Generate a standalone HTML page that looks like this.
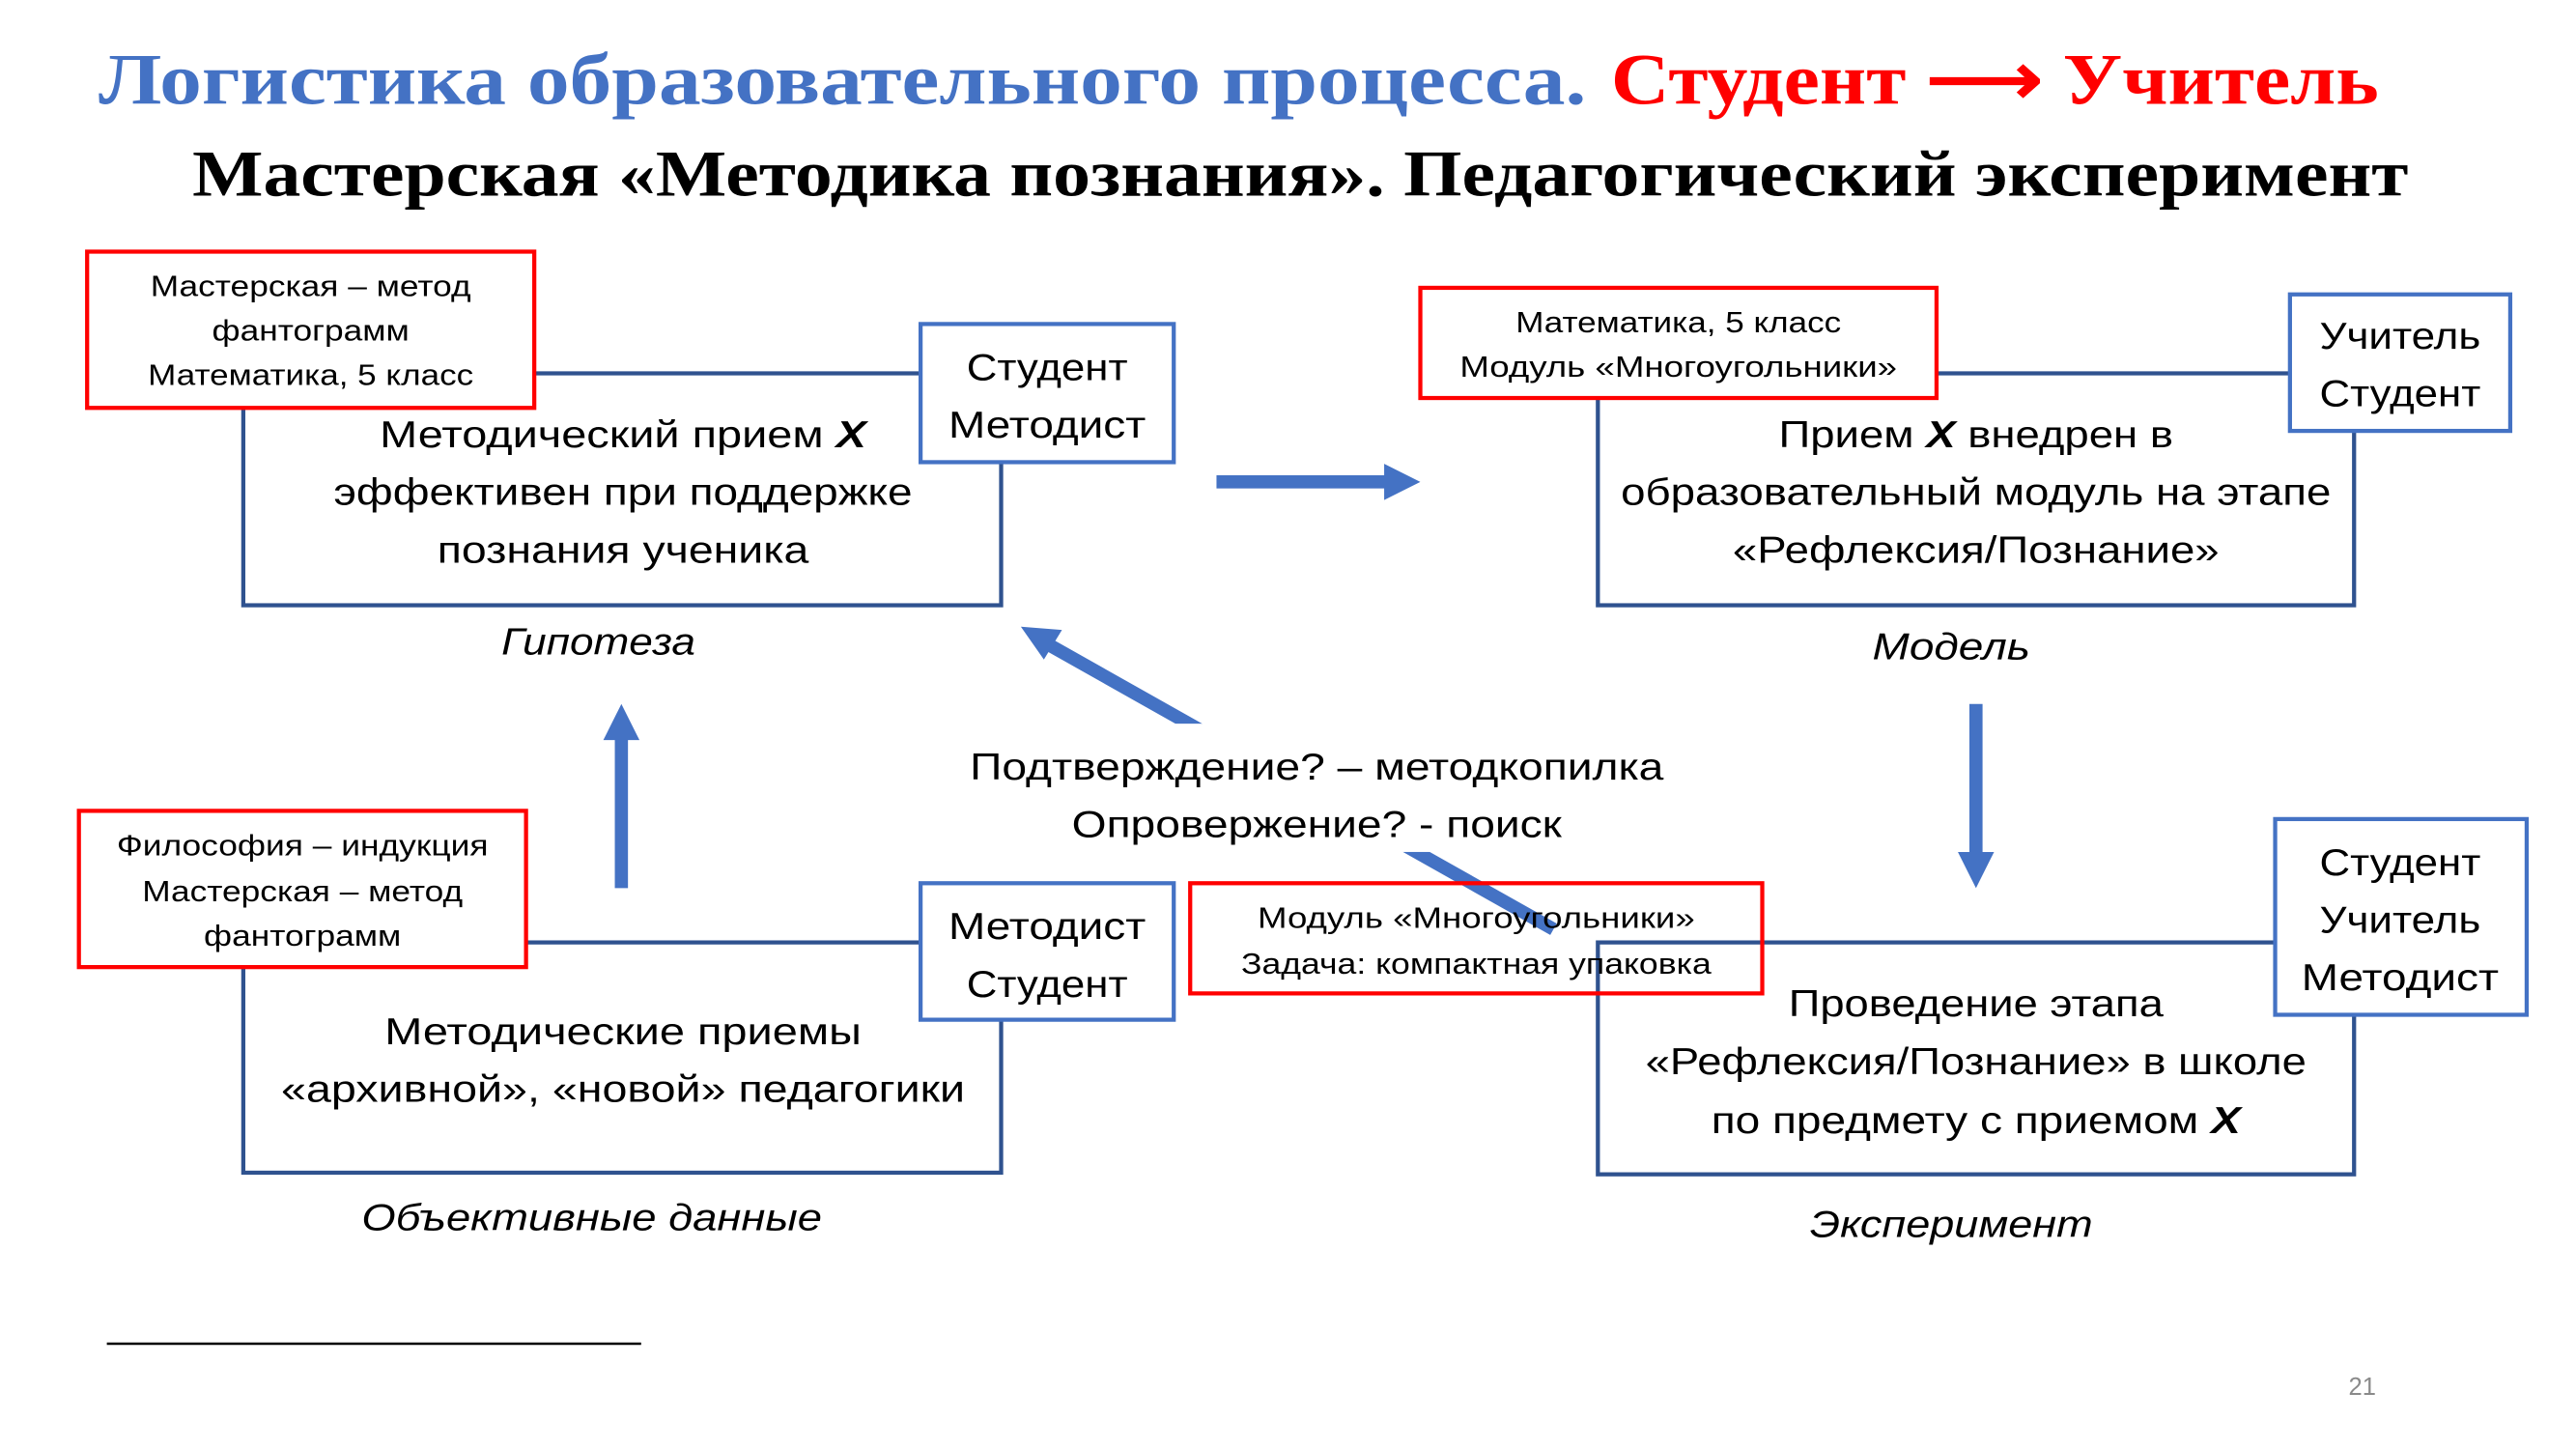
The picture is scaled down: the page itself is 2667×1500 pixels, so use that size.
<!DOCTYPE html>
<html><head><meta charset="utf-8"><style>
html,body{margin:0;padding:0;background:#fff;width:2667px;height:1500px;overflow:hidden}
svg{display:block}
text{font-family:"Liberation Sans","DejaVu Sans",sans-serif}
</style></head><body>
<svg width="2667" height="1500" viewBox="0 0 1567 881" preserveAspectRatio="none" xmlns="http://www.w3.org/2000/svg">
<rect width="1567" height="881" fill="#fff"/>
<!-- titles -->
<text x="60" y="63" font-weight="bold" font-size="44" fill="#4472C4" textLength="905" lengthAdjust="spacingAndGlyphs" style="font-family:'Liberation Serif',serif">Логистика образовательного процесса.</text>
<text x="980" y="63" font-weight="bold" font-size="44" fill="#FF0000" textLength="467" lengthAdjust="spacingAndGlyphs" style="font-family:'Liberation Serif',serif">Студент ⟶ Учитель</text>
<text x="117" y="119" font-weight="bold" font-size="40" fill="#000" textLength="1348" lengthAdjust="spacingAndGlyphs" style="font-family:'Liberation Serif',serif">Мастерская «Методика познания». Педагогический эксперимент</text>

<!-- arrows -->
<g stroke="#4472C4" stroke-width="8" fill="none">
<line x1="740" y1="293" x2="846" y2="293"/>
<line x1="1202" y1="428" x2="1202" y2="520"/>
<line x1="378" y1="540" x2="378" y2="448"/>
<line x1="945" y1="565" x2="638" y2="392"/>
</g>
<g fill="#4472C4">
<polygon points="864,293 842,282 842,304"/>
<polygon points="1202,540 1191,518 1213,518"/>
<polygon points="378,428 367,450 389,450"/>
<polygon points="621,381 646,383 635,401"/>
</g>

<!-- main boxes -->
<g fill="#fff" stroke="#2F528F" stroke-width="2.5">
<rect x="148" y="227" width="461" height="141"/>
<rect x="972" y="227" width="460" height="141"/>
<rect x="148" y="573" width="461" height="140"/>
<rect x="972" y="573" width="460" height="141"/>
</g>
<rect x="580" y="440" width="440" height="78" fill="#fff"/>
<text x="801" y="474" font-size="23" text-anchor="middle" textLength="422" lengthAdjust="spacingAndGlyphs">Подтверждение? – методкопилка</text>
<text x="801" y="509" font-size="23" text-anchor="middle" textLength="298" lengthAdjust="spacingAndGlyphs">Опровержение? - поиск</text>

<!-- red boxes -->
<g fill="#fff" stroke="#FF0000" stroke-width="2.5">
<rect x="53" y="153" width="272" height="95"/>
<rect x="864" y="175" width="314" height="67"/>
<rect x="48" y="493" width="272" height="95"/>
<rect x="724" y="537" width="348" height="67" fill="none"/>
</g>
<!-- blue small boxes -->
<g fill="#fff" stroke="#4472C4" stroke-width="2.5">
<rect x="560" y="197" width="154" height="84"/>
<rect x="1393" y="179" width="134" height="83"/>
<rect x="560" y="537" width="154" height="83"/>
<rect x="1384" y="498" width="153" height="119"/>
</g>

<g font-size="18" text-anchor="middle" fill="#000">
<text x="189" y="180" textLength="195" lengthAdjust="spacingAndGlyphs">Мастерская – метод</text>
<text x="189" y="207" textLength="120" lengthAdjust="spacingAndGlyphs">фантограмм</text>
<text x="189" y="234" textLength="198" lengthAdjust="spacingAndGlyphs">Математика, 5 класс</text>
<text x="1021" y="202" textLength="198" lengthAdjust="spacingAndGlyphs">Математика, 5 класс</text>
<text x="1021" y="229" textLength="266" lengthAdjust="spacingAndGlyphs">Модуль «Многоугольники»</text>
<text x="184" y="520" textLength="226" lengthAdjust="spacingAndGlyphs">Философия – индукция</text>
<text x="184" y="548" textLength="195" lengthAdjust="spacingAndGlyphs">Мастерская – метод</text>
<text x="184" y="575" textLength="120" lengthAdjust="spacingAndGlyphs">фантограмм</text>
<text x="898" y="564" textLength="266" lengthAdjust="spacingAndGlyphs">Модуль «Многоугольники»</text>
<text x="898" y="592" textLength="286" lengthAdjust="spacingAndGlyphs">Задача: компактная упаковка</text>
</g>

<g font-size="23" text-anchor="middle" fill="#000">
<text x="637" y="231" textLength="98" lengthAdjust="spacingAndGlyphs">Студент</text>
<text x="637" y="266" textLength="120" lengthAdjust="spacingAndGlyphs">Методист</text>
<text x="1460" y="212" textLength="98" lengthAdjust="spacingAndGlyphs">Учитель</text>
<text x="1460" y="247" textLength="98" lengthAdjust="spacingAndGlyphs">Студент</text>
<text x="637" y="571" textLength="120" lengthAdjust="spacingAndGlyphs">Методист</text>
<text x="637" y="606" textLength="98" lengthAdjust="spacingAndGlyphs">Студент</text>
<text x="1460" y="532" textLength="98" lengthAdjust="spacingAndGlyphs">Студент</text>
<text x="1460" y="567" textLength="98" lengthAdjust="spacingAndGlyphs">Учитель</text>
<text x="1460" y="602" textLength="120" lengthAdjust="spacingAndGlyphs">Методист</text>

<text x="379" y="272" textLength="296" lengthAdjust="spacingAndGlyphs">Методический прием <tspan font-weight="bold" font-style="italic">X</tspan></text>
<text x="379" y="307" textLength="352" lengthAdjust="spacingAndGlyphs">эффективен при поддержке</text>
<text x="379" y="342" textLength="226" lengthAdjust="spacingAndGlyphs">познания ученика</text>

<text x="1202" y="272" textLength="240" lengthAdjust="spacingAndGlyphs">Прием <tspan font-weight="bold" font-style="italic">X</tspan> внедрен в</text>
<text x="1202" y="307" textLength="432" lengthAdjust="spacingAndGlyphs">образовательный модуль на этапе</text>
<text x="1202" y="342" textLength="296" lengthAdjust="spacingAndGlyphs">«Рефлексия/Познание»</text>

<text x="379" y="635" textLength="290" lengthAdjust="spacingAndGlyphs">Методические приемы</text>
<text x="379" y="670" textLength="416" lengthAdjust="spacingAndGlyphs">«архивной», «новой» педагогики</text>

<text x="1202" y="618" textLength="228" lengthAdjust="spacingAndGlyphs">Проведение этапа</text>
<text x="1202" y="653" textLength="402" lengthAdjust="spacingAndGlyphs">«Рефлексия/Познание» в школе</text>
<text x="1202" y="689" textLength="322" lengthAdjust="spacingAndGlyphs">по предмету с приемом <tspan font-weight="bold" font-style="italic">X</tspan></text>
</g>

<g font-size="23" font-style="italic" text-anchor="middle" fill="#000">
<text x="364" y="398" textLength="118" lengthAdjust="spacingAndGlyphs">Гипотеза</text>
<text x="1187" y="401" textLength="96" lengthAdjust="spacingAndGlyphs">Модель</text>
<text x="360" y="748" textLength="280" lengthAdjust="spacingAndGlyphs">Объективные данные</text>
<text x="1187" y="752" textLength="172" lengthAdjust="spacingAndGlyphs">Эксперимент</text>
</g>

<line x1="65" y1="817" x2="390" y2="817" stroke="#000" stroke-width="1.5"/>
<text x="1437" y="848" font-size="15" fill="#8a8a8a" text-anchor="middle">21</text>
</svg>
</body></html>
